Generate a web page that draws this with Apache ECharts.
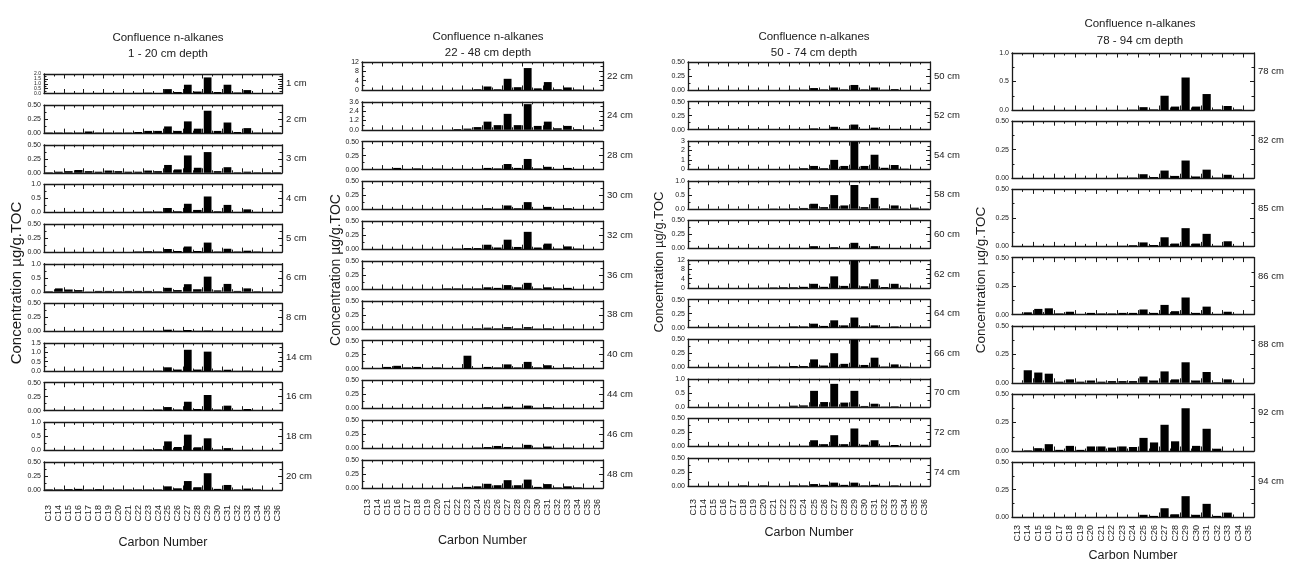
<!DOCTYPE html>
<html>
<head>
<meta charset="utf-8">
<script src="https://cdn.jsdelivr.net/npm/echarts@6/dist/echarts.min.js"></script>
<style>
html, body { margin: 0; padding: 0; background: #fff; }
#main { width: 1291px; height: 563px; }
</style>
</head>
<body>
<div id="main"></div>
<script>
// carbon numbers on the x axis
var carbon = ['C13','C14','C15','C16','C17','C18','C19','C20','C21','C22','C23','C24',
              'C25','C26','C27','C28','C29','C30','C31','C32','C33','C34','C35','C36'];
var carbon4 = carbon.slice(0, 23);

// column 1 : 1 - 20 cm
var depths1 = ['1 cm','2 cm','3 cm','4 cm','5 cm','6 cm','8 cm','14 cm','16 cm','18 cm','20 cm'];
var yMax1  = [2, 0.5, 0.5, 1, 0.5, 1, 0.5, 1.5, 0.5, 1, 0.5];
var yStep1 = [0.5, 0.25, 0.25, 0.5, 0.25, 0.5, 0.25, 0.5, 0.25, 0.5, 0.25];
var values1 = [
  [0.01,0.01,0.02,0.02,0.01,0.05,0.05,0.02,0.02,0.06,0.08,0.05,0.45,0.15,0.9,0.2,1.65,0.15,0.9,0.1,0.35,0.05,0.02,0.01],
  [0.01,0.01,0.01,0.01,0.03,0.01,0.01,0.01,0.01,0.02,0.04,0.04,0.12,0.04,0.21,0.08,0.40,0.04,0.19,0.02,0.09,0.01,0.01,0.01],
  [0.01,0.02,0.03,0.05,0.03,0.02,0.04,0.03,0.02,0.02,0.04,0.03,0.14,0.06,0.31,0.09,0.37,0.03,0.10,0.01,0.02,0.01,0.01,0.01],
  [0.01,0.01,0.01,0.01,0.01,0.01,0.01,0.01,0.01,0.02,0.03,0.03,0.16,0.04,0.31,0.09,0.57,0.04,0.27,0.02,0.11,0.02,0.01,0.01],
  [0,0,0,0,0,0,0,0,0,0.01,0.015,0.01,0.055,0.02,0.10,0.02,0.17,0.01,0.06,0.01,0.025,0.01,0,0],
  [0.02,0.12,0.08,0.06,0.01,0.03,0.03,0.02,0.03,0.03,0.03,0.02,0.14,0.06,0.27,0.09,0.54,0.05,0.28,0.03,0.12,0.02,0.01,0.01],
  [0,0,0,0,0,0,0,0,0,0,0.01,0.01,0.03,0.01,0.025,0.01,0.015,0,0.005,0,0,0,0,0],
  [0,0,0,0,0,0,0,0,0,0.01,0.01,0.02,0.2,0.08,1.14,0.08,1.04,0.03,0.07,0.01,0.02,0,0,0],
  [0,0,0,0,0,0,0,0,0,0,0.01,0.02,0.065,0.02,0.16,0.03,0.28,0.02,0.09,0.01,0.03,0,0,0],
  [0,0,0,0,0,0,0,0,0,0.02,0.03,0.04,0.32,0.12,0.56,0.11,0.43,0.03,0.08,0.01,0.02,0,0,0],
  [0.01,0.01,0.015,0.02,0.01,0.015,0.01,0.01,0.01,0.01,0.01,0.01,0.065,0.03,0.16,0.05,0.30,0.02,0.09,0.01,0.025,0.01,0,0]
];

// column 2 : 22 - 48 cm
var depths2 = ['22 cm','24 cm','28 cm','30 cm','32 cm','36 cm','38 cm','40 cm','44 cm','46 cm','48 cm'];
var yMax2  = [12, 3.6, 0.5, 0.5, 0.5, 0.5, 0.5, 0.5, 0.5, 0.5, 0.5];
var yStep2 = [4, 1.2, 0.25, 0.25, 0.25, 0.25, 0.25, 0.25, 0.25, 0.25, 0.25];
var values2 = [
  [0,0,0,0,0,0,0,0,0,0.05,0.1,0.3,1.5,0.3,4.8,1.2,9.4,0.7,3.4,0.3,1.1,0.2,0.1,0.05],
  [0,0,0,0,0,0,0,0,0.02,0.1,0.15,0.35,1.05,0.6,2.05,0.6,3.3,0.5,1.05,0.2,0.5,0.1,0.05,0.02],
  [0,0,0.01,0.03,0.01,0.02,0.01,0.015,0.01,0.01,0.01,0.01,0.03,0.02,0.10,0.03,0.19,0.02,0.05,0.01,0.03,0.01,0,0],
  [0,0,0,0,0,0,0,0,0,0,0.01,0.01,0.02,0.01,0.07,0.02,0.13,0.01,0.045,0.01,0.02,0.005,0,0],
  [0,0,0,0,0,0,0,0,0,0.01,0.02,0.02,0.08,0.03,0.17,0.04,0.31,0.03,0.10,0.01,0.05,0.01,0,0],
  [0,0,0,0,0,0,0,0,0.01,0.01,0.01,0.01,0.03,0.02,0.07,0.03,0.11,0.01,0.03,0.01,0.02,0,0,0],
  [0,0,0,0,0,0,0,0,0,0,0.005,0.01,0.02,0.01,0.03,0.01,0.03,0.005,0.01,0,0.005,0,0,0],
  [0,0,0.03,0.05,0.02,0.03,0.01,0.02,0.01,0.01,0.23,0.01,0.03,0.02,0.075,0.02,0.12,0.02,0.06,0.01,0.02,0.01,0,0],
  [0,0,0,0,0,0,0,0,0,0,0,0.005,0.02,0.01,0.03,0.01,0.05,0.01,0.02,0,0.01,0,0,0],
  [0,0,0,0,0,0,0,0,0,0,0,0.01,0.02,0.04,0.02,0.01,0.06,0.01,0.03,0,0.01,0,0,0],
  [0,0,0,0,0,0,0,0,0,0.01,0.02,0.03,0.075,0.05,0.14,0.05,0.15,0.02,0.07,0.01,0.03,0.01,0,0]
];

// column 3 : 50 - 74 cm
var depths3 = ['50 cm','52 cm','54 cm','58 cm','60 cm','62 cm','64 cm','66 cm','70 cm','72 cm','74 cm'];
var yMax3  = [0.5, 0.5, 3, 1, 0.5, 12, 0.5, 0.5, 1, 0.5, 0.5];
var yStep3 = [0.25, 0.25, 1, 0.5, 0.25, 4, 0.25, 0.25, 0.5, 0.25, 0.25];
var values3 = [
  [0,0,0,0,0,0,0,0,0,0,0.005,0.005,0.035,0.01,0.045,0.01,0.09,0.01,0.045,0.005,0.015,0,0,0],
  [0,0,0,0,0,0,0,0,0,0,0,0.005,0.02,0.005,0.05,0.01,0.09,0.01,0.035,0.005,0.01,0,0,0],
  [0,0,0,0,0,0,0,0,0.02,0.03,0.05,0.1,0.35,0.1,1.0,0.35,2.95,0.35,1.55,0.15,0.45,0.05,0.02,0],
  [0,0,0,0,0,0,0,0,0.01,0.01,0.02,0.03,0.18,0.06,0.49,0.12,0.85,0.06,0.39,0.02,0.12,0.01,0.04,0.01],
  [0,0,0,0,0,0,0,0,0,0,0.01,0.005,0.04,0.005,0.02,0.005,0.10,0.005,0.04,0,0.005,0,0,0],
  [0,0,0,0,0,0,0.05,0.1,0.2,0.3,0.3,0.5,1.8,0.5,5.0,0.9,11.8,0.75,3.75,0.4,1.8,0.2,0.05,0],
  [0,0,0,0,0,0,0,0,0,0.01,0.02,0.02,0.07,0.03,0.13,0.04,0.18,0.02,0.04,0.01,0.02,0,0,0],
  [0,0,0,0,0,0,0,0,0.01,0.01,0.02,0.02,0.14,0.03,0.25,0.06,0.49,0.04,0.17,0.01,0.05,0.01,0,0],
  [0,0,0,0,0,0,0,0,0,0.01,0.04,0.05,0.57,0.17,0.82,0.15,0.57,0.03,0.11,0.01,0.02,0,0,0],
  [0,0,0,0,0,0,0,0,0,0,0.01,0.01,0.11,0.04,0.20,0.04,0.32,0.03,0.11,0.01,0.025,0,0,0],
  [0,0,0,0,0,0.01,0,0.01,0,0,0.01,0.01,0.035,0.02,0.06,0.02,0.06,0.01,0.02,0,0.01,0,0,0]
];

// column 4 : 78 - 94 cm (C13 - C35)
var depths4 = ['78 cm','82 cm','85 cm','86 cm','88 cm','92 cm','94 cm'];
var yMax4  = [1, 0.5, 0.5, 0.5, 0.5, 0.5, 0.5];
var yStep4 = [0.5, 0.25, 0.25, 0.25, 0.25, 0.25, 0.25];
var values4 = [
  [0,0,0,0,0,0,0,0,0,0,0,0.005,0.05,0.01,0.25,0.06,0.57,0.06,0.28,0.01,0.07,0.01,0],
  [0,0,0,0,0,0,0,0,0,0,0.005,0.005,0.035,0.01,0.067,0.02,0.155,0.015,0.075,0.005,0.03,0,0],
  [0,0,0,0,0,0,0,0,0,0,0.005,0.01,0.035,0.012,0.08,0.025,0.16,0.025,0.11,0.005,0.045,0,0],
  [0,0.02,0.05,0.055,0.01,0.025,0,0.015,0.01,0.01,0.015,0.015,0.045,0.015,0.085,0.03,0.15,0.015,0.07,0.005,0.025,0,0],
  [0,0.11,0.09,0.08,0.01,0.03,0.01,0.02,0.01,0.015,0.015,0.015,0.055,0.02,0.10,0.03,0.18,0.02,0.095,0.005,0.03,0,0],
  [0,0.005,0.025,0.06,0.01,0.045,0.01,0.04,0.04,0.03,0.04,0.035,0.115,0.075,0.23,0.085,0.375,0.045,0.195,0.02,0,0,0],
  [0,0,0,0,0,0,0,0,0,0,0,0,0.02,0.01,0.08,0.025,0.19,0.02,0.12,0.01,0.04,0,0]
];

var titles = ['Confluence n-alkanes\n1 - 20 cm depth', 'Confluence n-alkanes\n22 - 48 cm depth',
              'Confluence n-alkanes\n50 - 74 cm depth', 'Confluence n-alkanes\n78 - 94 cm depth'];
var yTitle = 'Concentration µg/g.TOC';
var xTitle = 'Carbon Number';

// layout of the four columns
var columns = [
  { depths: depths1, values: values1, max: yMax1, step: yStep1, cats: carbon,
    left: 44, width: 238, bottom0: 93.5, pitch: 39.65, h: 28, firstTop: 74,
    titleX: 163, titleTop: 25, lineH: 16, yx: 17, yy: 283, ys: 15, nameGap: 46, lblMargin: 15, depthAt: 0.5 },
  { depths: depths2, values: values2, max: yMax2, step: yStep2, cats: carbon,
    left: 362, width: 241, bottom0: 90, pitch: 39.8, h: 28,
    titleX: 483, titleTop: 24, lineH: 16, yx: 336, yy: 270, ys: 14, nameGap: 46, lblMargin: 11, depthAt: 0.5 },
  { depths: depths3, values: values3, max: yMax3, step: yStep3, cats: carbon,
    left: 688, width: 242, bottom0: 90, pitch: 39.6, h: 28,
    titleX: 809, titleTop: 24, lineH: 16, yx: 659, yy: 262, ys: 13, nameGap: 40, lblMargin: 13, depthAt: 0.5 },
  { depths: depths4, values: values4, max: yMax4, step: yStep4, cats: carbon4,
    left: 1012, width: 242, bottom0: 110, pitch: 68.2, h: 57,
    titleX: 1135, titleTop: 10, lineH: 17, yx: 981, yy: 280, ys: 13.5, nameGap: 32, lblMargin: 8, depthAt: 0.33 }
];

var ink = '#1a1a1a';
var font = '"Liberation Sans", Arial, sans-serif';
var grids = [], xAxes = [], yAxes = [], series = [], graphics = [], titleList = [];

function decimals(st) {
  var s = String(st);
  return s.indexOf('.') < 0 ? 0 : s.split('.')[1].length;
}

columns.forEach(function (c, ci) {
  titleList.push({
    text: titles[ci], left: c.titleX, top: c.titleTop, textAlign: 'center',
    textStyle: { fontSize: 11.5, fontWeight: 'normal', color: ink, lineHeight: c.lineH, fontFamily: font }
  });
  graphics.push({
    type: 'text', x: c.yx, y: c.yy, rotation: Math.PI / 2,
    style: { text: yTitle, fill: ink, align: 'center', verticalAlign: 'middle',
             font: c.ys + 'px ' + font }
  });
  var n = c.cats.length;
  c.depths.forEach(function (d, i) {
    var bottom = c.bottom0 + c.pitch * i;
    var top = (i === 0 && c.firstTop) ? c.firstTop : bottom - c.h;
    var height = bottom - top;
    var last = i === c.depths.length - 1;
    var g = grids.length;
    grids.push({ left: c.left, top: top, width: c.width, height: height });

    var tickStyle = { color: ink, width: 1 };
    var catIdx = xAxes.length;
    xAxes.push({
      type: 'category', gridIndex: g, data: c.cats, position: 'bottom',
      axisLine: { show: true, onZero: false, lineStyle: { color: ink, width: 1.3 } },
      axisTick: { show: false },
      axisLabel: last ? { show: true, rotate: 90, interval: 0, fontSize: 9, margin: c.lblMargin, color: ink, fontFamily: font }
                      : { show: false },
      name: last ? xTitle : '', nameLocation: 'middle', nameGap: c.nameGap,
      nameTextStyle: { fontSize: 12.5, color: ink, fontFamily: font }
    });
    ['bottom', 'top'].forEach(function (pos) {
      xAxes.push({
        type: 'value', gridIndex: g, position: pos, min: 0, max: n, interval: 2,
        axisLine: { show: pos === 'top', onZero: false, lineStyle: { color: ink, width: 1.3 } },
        axisTick: { show: true, inside: true, length: 4.5, lineStyle: tickStyle },
        minorTick: { show: true, splitNumber: 2, length: 2.5, lineStyle: tickStyle },
        axisLabel: { show: false }, splitLine: { show: false }
      });
    });

    var dec = decimals(c.step[i]);
    // pixel room per tick label; the squeezed 1 cm panel gets tiny labels
    var room = height / (c.max[i] / c.step[i]);
    var lblSize = room < 7 ? 5 : 7;
    var lblLine = room < 7 ? 3 : 8;
    var leftIdx = yAxes.length;
    ['left', 'right'].forEach(function (pos) {
      yAxes.push({
        type: 'value', gridIndex: g, position: pos, min: 0, max: c.max[i], interval: c.step[i],
        axisLine: { show: true, onZero: false, lineStyle: { color: ink, width: 1.3 } },
        axisTick: { show: true, inside: true, length: 4, lineStyle: tickStyle },
        minorTick: { show: true, splitNumber: 2, length: 2.5, lineStyle: tickStyle },
        axisLabel: pos === 'left'
          ? { show: true, fontSize: lblSize, lineHeight: lblLine, margin: 3, color: ink, fontFamily: font,
              showMinLabel: true, showMaxLabel: true, hideOverlap: false,
              formatter: function (v) { return v.toFixed(dec); } }
          : { show: false },
        splitLine: { show: false }
      });
    });

    series.push({
      type: 'bar', xAxisIndex: catIdx, yAxisIndex: leftIdx, data: c.values[i],
      itemStyle: { color: '#000' }, barCategoryGap: '22%', silent: true
    });

    graphics.push({
      type: 'text', x: c.left + c.width + 4, y: top + height * c.depthAt,
      style: { text: d, fill: ink, align: 'left', verticalAlign: 'middle', font: '9.5px ' + font }
    });
  });
});

var chart = echarts.init(document.getElementById('main'));
chart.setOption({
  animation: false,
  backgroundColor: '#fff',
  textStyle: { fontFamily: font },
  title: titleList,
  grid: grids,
  xAxis: xAxes,
  yAxis: yAxes,
  series: series,
  graphic: graphics
});
</script>
</body>
</html>
